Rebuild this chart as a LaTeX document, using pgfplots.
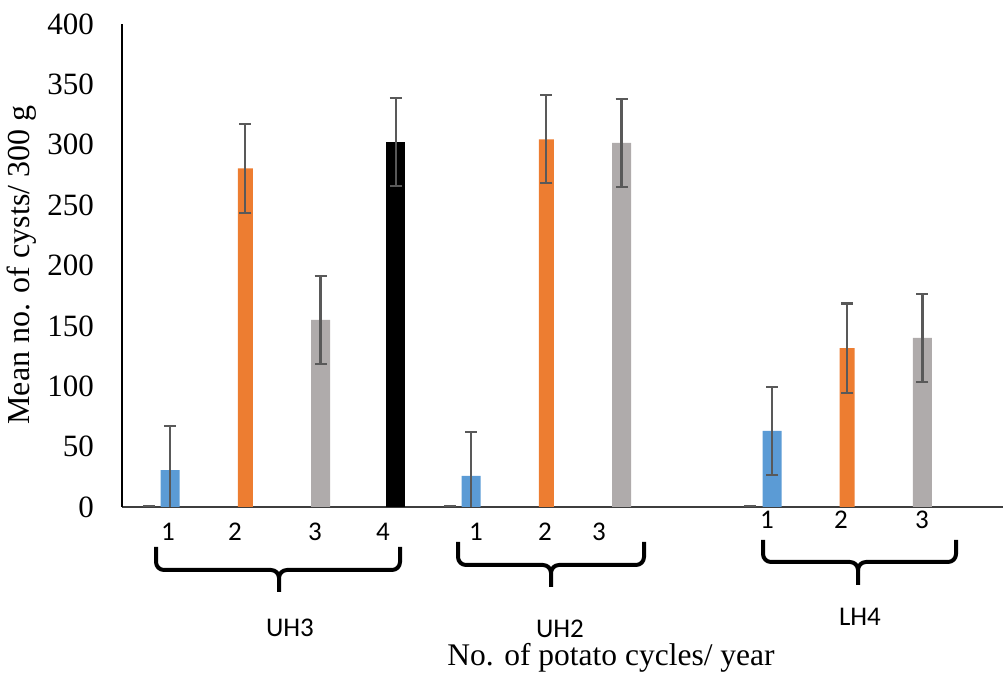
\documentclass[border=0pt]{standalone}
\usepackage{fontspec}
\setmainfont{Liberation Serif}
\newfontfamily\calfont{Carlito}
\usepackage{pgfplots}
\pgfplotsset{compat=1.18}
\definecolor{cblue}{HTML}{5B9BD5}
\definecolor{corange}{HTML}{ED7D31}
\definecolor{cgray}{HTML}{AFABAB}
\definecolor{errgray}{HTML}{595959}
\newcommand\mybrace[6]{% x1 x2 xt ytop yh ytip (pixel coords, y down)
  \draw[line width=4pt, line join=round]
    (#1,674-#4) -- (#1,674-#5+8) to[out=-90,in=180] (#1+8,674-#5) -- (#3-8,674-#5)
    to[out=0,in=90] (#3,674-#5-8) -- (#3,674-#6);
  \draw[line width=4pt, line join=round]
    (#2,674-#4) -- (#2,674-#5+8) to[out=-90,in=0] (#2-8,674-#5) -- (#3+8,674-#5)
    to[out=180,in=90] (#3,674-#5-8);
}
\begin{document}
\begin{tikzpicture}[x=1pt,y=1pt]
\path[use as bounding box] (0,0) rectangle (1003,674);
\begin{axis}[
  at={(122pt,167pt)}, anchor=south west,
  scale only axis, width=881pt, height=483pt,
  xmin=0.362, xmax=12.07, ymin=0, ymax=400,
  axis lines=left,
  axis line style={-, line width=1.5pt},
  x axis line style={errgray!70!black},
  major tick length=0pt,
  /pgf/number format/assume math mode=true,
  ytick={0,50,...,400},
  yticklabel style={font=\fontsize{31}{31}\selectfont, anchor=east, inner sep=0pt, xshift=-28pt},
  xtick={0.973,1.864,2.927,3.831,5.066,5.983,6.701},
  xticklabels={1,2,3,4,1,2,3},
  xticklabel style={font=\calfont\fontsize{27}{27}\selectfont, anchor=center, inner sep=0pt, yshift=-25pt},
  extra x ticks={8.934,9.917,10.993},
  extra x tick labels={1,2,3},
  extra x tick style={xticklabel style={yshift=12pt}},
  error bars/y dir=both, error bars/y explicit,
  error bars/error bar style={line width=2.2pt, errgray},
  error bars/error mark options={line width=2.2pt, errgray, mark size=6pt, rotate=90},
]
\addplot[ybar, bar shift=0pt, bar width=19pt, fill=cblue, draw=none]
  coordinates {(1,30.5) +- (0,36.5) (5,25.7) +- (0,36.5) (9,63) +- (0,36.5)};
\addplot[ybar, bar shift=0pt, bar width=15pt, fill=corange, draw=none]
  coordinates {(2,280.5) +- (0,37) (6,304.5) +- (0,36.5) (10,131.5) +- (0,37)};
\addplot[ybar, bar shift=0pt, bar width=19pt, fill=cgray, draw=none]
  coordinates {(3,155) +- (0,36.5) (7,301.5) +- (0,36.5) (11,140) +- (0,36.5)};
\addplot[ybar, bar shift=0pt, bar width=19pt, fill=black, draw=none]
  coordinates {(4,302.5) +- (0,36.5)};
\addplot[only marks, mark=-, mark size=6pt, mark options={line width=1.5pt, errgray}]
  coordinates {(0.72,1) (4.72,1) (8.71,1)};
\end{axis}
\node[rotate=90, font=\fontsize{32}{32}\selectfont] at (22,409) {Mean no. of cysts/ 300 g};
\node[font=\fontsize{31.5}{31.5}\selectfont] at (611,16) {No. of potato cycles/ year};
\node[font=\calfont\fontsize{27}{27}\selectfont] at (290,46) {UH3};
\node[font=\calfont\fontsize{27}{27}\selectfont] at (560,45) {UH2};
\node[font=\calfont\fontsize{27}{27}\selectfont] at (860,57) {LH4};
\mybrace{156}{400}{279}{547}{570}{592}
\mybrace{458}{644}{551}{542}{565}{587}
\mybrace{763}{956}{858}{540}{562}{585}
\end{tikzpicture}
\end{document}
